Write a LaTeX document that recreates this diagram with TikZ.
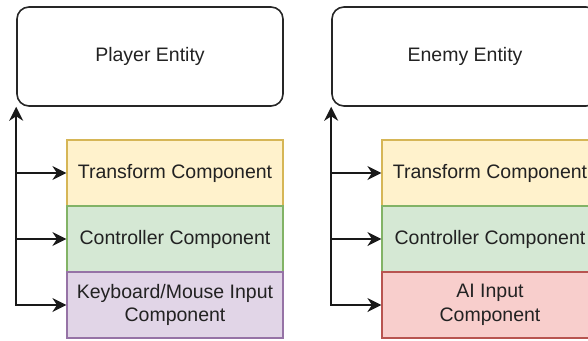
\documentclass[tikz,border=0pt]{standalone}
\usepackage{fontspec}
\setmainfont{Liberation Sans}
\usetikzlibrary{arrows.meta}
\definecolor{txtc}{HTML}{222222}
\definecolor{yfill}{HTML}{FFF2CC}\definecolor{ydraw}{HTML}{D6B656}
\definecolor{gfill}{HTML}{D5E8D4}\definecolor{gdraw}{HTML}{82B366}
\definecolor{pfill}{HTML}{E1D5E7}\definecolor{pdraw}{HTML}{9673A6}
\definecolor{rfill}{HTML}{F8CECC}\definecolor{rdraw}{HTML}{B85450}
\begin{document}
\begin{tikzpicture}[x=1pt,y=-1pt,
  every node/.style={text=txtc, font=\fontsize{19.5}{23.5}\selectfont},
  entity/.style={draw=black!85, line width=1.6pt, rounded corners=12pt,
    minimum width=266pt, minimum height=99pt, inner sep=0pt},
  comp/.style={line width=1.2pt, minimum width=216pt, minimum height=66pt,
    inner sep=0pt, align=center},
  tr/.style={comp, fill=yfill, draw=ydraw},
  ct/.style={comp, fill=gfill, draw=gdraw},
  kb/.style={comp, fill=pfill, draw=pdraw},
  ai/.style={comp, fill=rfill, draw=rdraw},
  link/.style={draw=black!90, line width=1.8pt, line cap=rect,
    -{Stealth[length=14pt,width=14pt,inset=4.5pt]}}]
\useasboundingbox (0,0) rectangle (588,340);
\clip (0,0) rectangle (588,340);

% player entity and its components
\node[entity] (pe) at (150,56.5) {Player Entity};
\node[tr] (pt) at (175,173) {Transform Component};
\node[ct] (pc) at (175,239) {Controller Component};
\node[kb] (pk) at (175,305) {Keyboard/Mouse Input\\Component};

% enemy entity and its components
\node[entity] (ee) at (465,56.5) {Enemy Entity};
\node[tr] (et) at (490,173) {Transform Component};
\node[ct] (ec) at (490,239) {Controller Component};
\node[ai] (ea) at (490,305) {AI Input\\Component};

% connectors
\foreach \e/\a/\b/\c in {pe/pt/pc/pk, ee/et/ec/ea}{
  \draw[link] (\c.west -| \e.west) -- (\e.south west);
  \draw[link] (\a.west -| \e.west) -- (\a.west);
  \draw[link] (\b.west -| \e.west) -- (\b.west);
  \draw[link] (\c.west -| \e.west) -- (\c.west);
}
\end{tikzpicture}
\end{document}
